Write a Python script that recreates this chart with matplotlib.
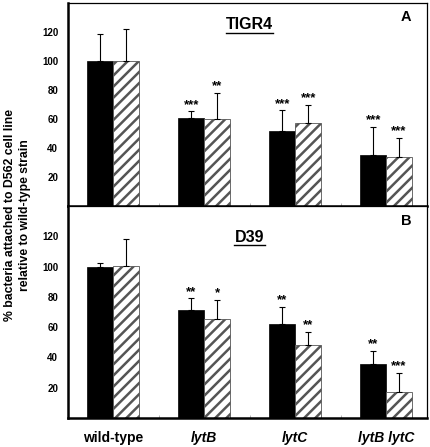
import numpy as np
import matplotlib.pyplot as plt

plt.rcParams['font.family'] = ['Liberation Sans', 'DejaVu Sans']
plt.rcParams['font.weight'] = 'bold'
plt.rcParams['hatch.linewidth'] = 1.8

strains = ["wild-type", "lytB", "lytC", "lytB lytC"]

# panel A - TIGR4
tigr4_black = [100, 61, 52, 35]
tigr4_black_err = [19, 4.5, 14, 19.5]
tigr4_hatch = [100, 60, 57, 34]
tigr4_hatch_err = [22, 18, 13, 13]
tigr4_black_star = ["", "***", "***", "***"]
tigr4_hatch_star = ["", "**", "***", "***"]

# panel B - D39
d39_black = [100, 71, 62, 35.5]
d39_black_err = [2.5, 8, 11.5, 9]
d39_hatch = [100.5, 65.5, 48.5, 17]
d39_hatch_err = [17.5, 12.5, 8.5, 13]
d39_black_star = ["", "**", "**", "**"]
d39_hatch_star = ["", "*", "**", "***"]

fig = plt.figure(figsize=(4.3, 4.47), dpi=100)
axA = fig.add_axes([0.158, 0.539, 0.835, 0.454])
axB = fig.add_axes([0.158, 0.065, 0.835, 0.474])

x = np.arange(len(strains))
w = 0.285


def draw_panel(ax, black, black_err, hatch, hatch_err, bstar, hstar, letter):
    ax.bar(x - w / 2, black, w, color="black", edgecolor="black", linewidth=0.5)
    ax.bar(x + w / 2, hatch, w, color="white", edgecolor="#555555", hatch="///", linewidth=0.6)
    ax.errorbar(x - w / 2, black, yerr=[np.zeros(4), black_err], fmt="none",
                ecolor="black", elinewidth=0.8, capsize=2.5, capthick=0.8)
    ax.errorbar(x + w / 2, hatch, yerr=[np.zeros(4), hatch_err], fmt="none",
                ecolor="black", elinewidth=0.8, capsize=2.5, capthick=0.8)
    for i in range(len(strains)):
        if bstar[i]:
            ax.text(x[i] - w / 2, black[i] + black_err[i] + 0.3, bstar[i],
                    ha="center", va="bottom", fontsize=9.5)
        if hstar[i]:
            ax.text(x[i] + w / 2, hatch[i] + hatch_err[i] + 0.3, hstar[i],
                    ha="center", va="bottom", fontsize=9.5)
    ax.set_xlim(-0.5, 3.45)
    ax.set_ylim(0, 140)
    ax.set_yticks([20, 40, 60, 80, 100, 120])
    ax.tick_params(axis="y", length=0, labelsize=7, pad=7)
    ax.set_xticks([0.5, 1.5, 2.5])
    ax.tick_params(axis="x", direction="in", length=2, width=0.5, color="#999999",
                   labelbottom=False)
    ax.spines["left"].set_linewidth(1.8)
    ax.spines["bottom"].set_linewidth(1.8)
    ax.spines["top"].set_linewidth(0.9)
    ax.spines["right"].set_linewidth(0.9)
    ax.text(3.22, 135, letter, ha="center", va="top", fontsize=10.5)


draw_panel(axA, tigr4_black, tigr4_black_err, tigr4_hatch, tigr4_hatch_err,
           tigr4_black_star, tigr4_hatch_star, "A")
draw_panel(axB, d39_black, d39_black_err, d39_hatch, d39_hatch_err,
           d39_black_star, d39_hatch_star, "B")

# strain titles, underlined
axA.text(1.5, 125.5, "TIGR4", ha="center", va="center", fontsize=11.5)
axA.plot([1.24, 1.76], [119.5, 119.5], color="black", lw=1)
axB.text(1.5, 119.5, "D39", ha="center", va="center", fontsize=11.5)
axB.plot([1.33, 1.67], [114.5, 114.5], color="black", lw=1)

for i, s in enumerate(strains):
    style = "normal" if i == 0 else "italic"
    axB.text(x[i], -13, s, ha="center", va="center", fontsize=10, style=style,
             clip_on=False)

fig.text(0.04, 0.519, "% bacteria attached to D562 cell line\nrelative to wild-type strain",
         rotation=90, ha="center", va="center", fontsize=8.8, linespacing=1.3)

fig.savefig("out.png", dpi=100)
